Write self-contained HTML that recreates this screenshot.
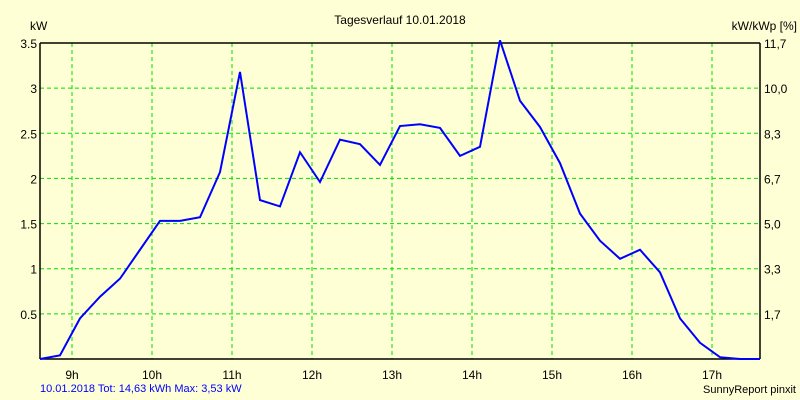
<!DOCTYPE html>
<html><head><meta charset="utf-8"><style>
body{margin:0;background:#FFFFD5;}
svg{display:block;font-family:"Liberation Sans",sans-serif;}
</style></head><body>
<svg id="c" width="800" height="400">
<rect width="800" height="400" fill="#FFFFD5"/>
<text x="400" y="24" font-size="12" text-anchor="middle">Tagesverlauf 10.01.2018</text>
<text x="30" y="30" font-size="12">kW</text>
<text x="797" y="30" font-size="12" text-anchor="end">kW/kWp [%]</text>
<text x="40" y="392" font-size="11" fill="#0000ff">10.01.2018 Tot: 14,63 kWh Max: 3,53 kW</text>
<text x="796" y="393" font-size="11" text-anchor="end">SunnyReport pinxit</text>
<g id="grid"></g><g id="axes"></g>
<polyline id="line" fill="none" stroke="#0000ff" stroke-width="2"/>
</svg>
<script>
const startHour = 8.6;
const stepHours = 0.25;
const powerKw = [0,0.04,0.45,0.69,0.89,1.21,1.53,1.53,1.57,2.07,3.18,1.76,1.69,2.29,1.96,2.43,2.38,2.15,2.58,2.60,2.56,2.25,2.35,3.53,2.86,2.57,2.17,1.61,1.31,1.11,1.21,0.96,0.45,0.18,0.02,0,0];
const hourTicks = [9,10,11,12,13,14,15,16,17];
const leftTicks = [0.5,1,1.5,2,2.5,3,3.5];
const leftLabels = ["0.5","1","1.5","2","2.5","3","3.5"];
const rightLabels = ["1,7","3,3","5,0","6,7","8,3","10,0","11,7"];
const L=40,R=760,T=43,B=359,xMin=8.6,xMax=17.6,yMax=3.5;
const xs=h=>L+(h-xMin)/(xMax-xMin)*(R-L);
const ys=v=>B-v/yMax*(B-T);
const NS="http://www.w3.org/2000/svg";
const grid=document.getElementById('grid'),axes=document.getElementById('axes');
function mk(p,tag,at){const e=document.createElementNS(NS,tag);for(const k in at)e.setAttribute(k,at[k]);p.appendChild(e);return e;}
hourTicks.forEach(h=>{
 const l=mk(grid,'line',{x1:xs(h),x2:xs(h),y1:T,y2:B,stroke:'#00dd00','stroke-dasharray':'4,3'});
 
 
 const t=mk(axes,'text',{x:xs(h),y:B+20,'font-size':12,'text-anchor':'middle'});t.textContent=h+'h';
 
 
});
leftTicks.forEach((v,i)=>{
 const l=mk(grid,'line',{x1:L,x2:R,y1:ys(v),y2:ys(v),stroke:'#00dd00','stroke-dasharray':'4,3'});
 
 
 const t=mk(axes,'text',{x:L-3,y:ys(v)+5,'font-size':12,'text-anchor':'end'});t.textContent=leftLabels[i];
 
 
 const t2=mk(axes,'text',{x:R+4,y:ys(v)+5,'font-size':12});t2.textContent=rightLabels[i];
 
 
});
[[L,T,R,T],[L,T,L,B],[R,T,R,B],[L,B,R,B]].forEach(a=>{
 const l=mk(axes,'line',{x1:a[0],y1:a[1],x2:a[2],y2:a[3],stroke:'#000','stroke-width':1.5});
 
 
});
document.getElementById('line').setAttribute('points',powerKw.map((v,i)=>xs(startHour+i*stepHours)+','+ys(v)).join(' '));
</script>
</body></html>
